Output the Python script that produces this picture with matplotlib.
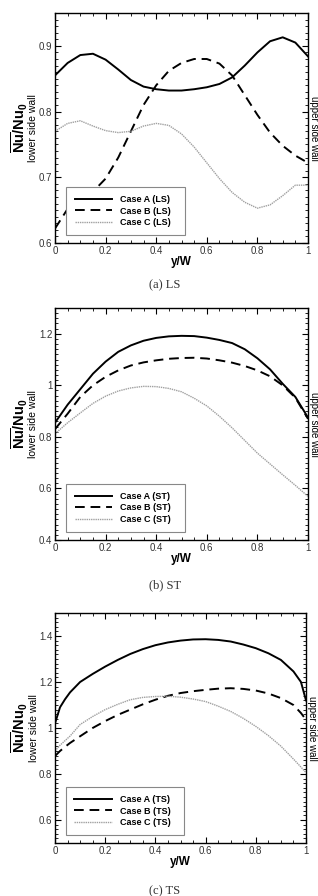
import matplotlib
matplotlib.use('Agg')
import matplotlib.pyplot as plt
from matplotlib.ticker import MultipleLocator, FuncFormatter

plt.rcParams['font.family'] = ['Liberation Sans', 'DejaVu Sans']
plt.rcParams['mathtext.fontset'] = 'custom'
plt.rcParams['mathtext.bf'] = 'Liberation Sans:bold'
plt.rcParams['mathtext.rm'] = 'Liberation Sans'

# ---- data ----
x_ab = [0, 0.05, 0.1, 0.15, 0.2, 0.25, 0.3, 0.35, 0.4, 0.45, 0.5,
        0.55, 0.6, 0.65, 0.7, 0.75, 0.8, 0.85, 0.9, 0.95, 1.0]

ls_a = [0.855, 0.874, 0.886, 0.888, 0.879, 0.864, 0.848, 0.838, 0.834, 0.832, 0.832,
        0.834, 0.837, 0.842, 0.852, 0.870, 0.890, 0.907, 0.913, 0.905, 0.884]
ls_b = [0.622, 0.652, 0.665, 0.678, 0.698, 0.730, 0.770, 0.810, 0.840, 0.862, 0.874,
        0.880, 0.880, 0.873, 0.855, 0.825, 0.795, 0.768, 0.748, 0.733, 0.722]
ls_c = [0.770, 0.782, 0.786, 0.778, 0.771, 0.768, 0.770, 0.778, 0.782, 0.779, 0.766,
        0.746, 0.722, 0.698, 0.677, 0.662, 0.653, 0.658, 0.672, 0.688, 0.688]

st_a = [0.855, 0.925, 0.985, 1.045, 1.092, 1.130, 1.155, 1.173, 1.184, 1.190, 1.192,
        1.191, 1.185, 1.176, 1.164, 1.140, 1.105, 1.062, 1.006, 0.955, 0.875]
st_b = [0.830, 0.890, 0.955, 1.000, 1.033, 1.058, 1.077, 1.089, 1.097, 1.103, 1.106,
        1.107, 1.104, 1.097, 1.088, 1.075, 1.058, 1.035, 1.000, 0.952, 0.870]
st_c = [0.812, 0.855, 0.893, 0.930, 0.958, 0.978, 0.990, 0.996, 0.995, 0.988, 0.975,
        0.950, 0.920, 0.880, 0.835, 0.786, 0.737, 0.695, 0.653, 0.612, 0.569]

x_c = [0, 0.02, 0.04, 0.06, 0.1, 0.15, 0.2, 0.25, 0.3, 0.35, 0.4, 0.45, 0.5,
       0.55, 0.6, 0.65, 0.7, 0.75, 0.8, 0.85, 0.9, 0.95, 0.98, 1.0]
ts_a = [1.020, 1.090, 1.125, 1.155, 1.200, 1.235, 1.267, 1.296, 1.322, 1.343, 1.360, 1.372, 1.380,
        1.385, 1.386, 1.383, 1.376, 1.363, 1.347, 1.325, 1.296, 1.246, 1.200, 1.120]
ts_b = [0.878, 0.900, 0.918, 0.935, 0.964, 1.000, 1.030, 1.057, 1.080, 1.103, 1.123, 1.140, 1.152,
        1.160, 1.166, 1.171, 1.173, 1.170, 1.163, 1.150, 1.130, 1.100, 1.065, 1.036]
ts_c = [0.900, 0.925, 0.945, 0.965, 1.015, 1.050, 1.080, 1.103, 1.123, 1.133, 1.137, 1.138, 1.134,
        1.126, 1.115, 1.095, 1.072, 1.042, 1.007, 0.967, 0.921, 0.865, 0.830, 0.806]

panels = [
    ('LS', x_ab, ls_a, ls_b, ls_c, (0.6, 0.95), 0.1, '(a) LS'),
    ('ST', x_ab, st_a, st_b, st_c, (0.4, 1.3), 0.2, '(b) ST'),
    ('TS', x_c, ts_a, ts_b, ts_c, (0.5, 1.5), 0.2, '(c) TS'),
]

W, H = 318, 896
# axes boxes in pixels: left, top, right, bottom
boxes = [(55, 13, 308, 243), (55, 308, 308, 540), (55, 613, 306, 843)]
caption_y = [285, 585, 891]

def fmt(v, pos):
    return ('%g' % round(v, 3))

fig = plt.figure(figsize=(W / 100, H / 100), dpi=100)

for (tag, xs, ya, yb, yc, ylim, lab_step, cap), box, cy in zip(panels, boxes, caption_y):
    l, t, r, b = box
    ax = fig.add_axes([l / W, 1 - b / H, (r - l) / W, (b - t) / H])
    ax.plot(xs, ya, color='black', lw=1.4, label='Case A (%s)' % tag)
    ax.plot(xs, yb, color='black', lw=1.4, dashes=(5, 3), label='Case B (%s)' % tag)
    ax.plot(xs, yc, color='#a0a0a0', lw=1.0, ls=(0, (1, 0.6)), label='Case C (%s)' % tag)
    ax.set_xlim(0, 1)
    ax.set_ylim(*ylim)

    ax.xaxis.set_major_locator(MultipleLocator(0.2))
    ax.xaxis.set_minor_locator(MultipleLocator(0.05))
    ax.yaxis.set_major_locator(MultipleLocator(lab_step))
    ax.yaxis.set_minor_locator(MultipleLocator(lab_step / 10))
    ax.xaxis.set_major_formatter(FuncFormatter(fmt))
    ax.yaxis.set_major_formatter(FuncFormatter(fmt))
    ax.tick_params(which='both', direction='in', top=True, right=True,
                   labelsize=7, labelcolor='#333333', pad=2)
    ax.tick_params(which='major', length=4, width=0.8)
    ax.tick_params(which='minor', length=2, width=0.6)
    for s in ax.spines.values():
        s.set_linewidth(1.0)

    ax.set_xlabel('y/W', fontsize=8.5, fontweight='bold', labelpad=0)
    ax.text(-0.14, 0.5, r'$\mathbf{\overline{Nu}/Nu_0}$', transform=ax.transAxes,
            rotation=90, ha='center', va='center', fontsize=10.5)
    ax.text(-0.085, 0.5, 'lower side wall', transform=ax.transAxes,
            rotation=90, ha='center', va='center', fontsize=7.5)
    ax.text(1.022, 0.5, 'upper side wall', transform=ax.transAxes,
            rotation=270, ha='center', va='center', fontsize=7)

    leg = ax.legend(loc='lower left', bbox_to_anchor=(0.045, 0.035, 0.47, 0.23),
                    mode='expand', handlelength=4.2, handletextpad=0.8,
                    borderaxespad=0, fancybox=False, framealpha=1,
                    prop={'weight': 'bold', 'size': 6.5}, labelspacing=0.25,
                    borderpad=0.9)
    leg.get_frame().set_edgecolor('#888888')
    leg.get_frame().set_linewidth(0.8)

    fig.text(165 / W, 1 - cy / H, cap, ha='center', va='center', fontsize=9,
             family=['Liberation Serif', 'DejaVu Serif'], color='#333333')

fig.savefig('out.png', dpi=100)
